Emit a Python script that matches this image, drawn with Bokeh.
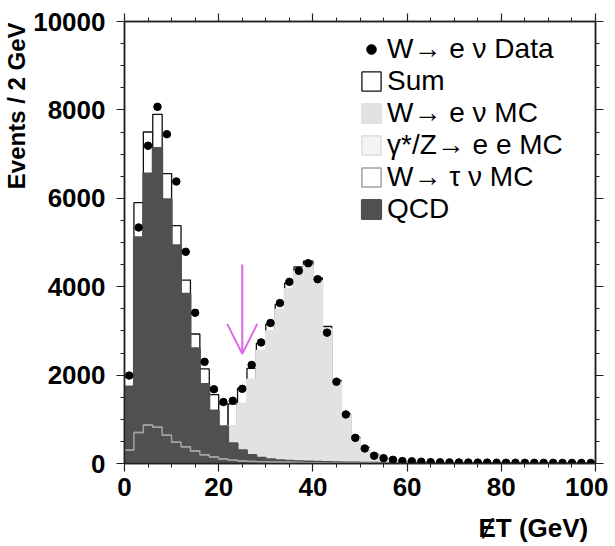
import numpy as np
from bokeh.plotting import figure
from bokeh.models import (Range1d, SingleIntervalTicker, LinearAxis, Arrow,
                          OpenHead, Legend, LegendItem, ColumnDataSource,
                          CustomJSTickFormatter)
from bokeh.embed import file_html
from bokeh.resources import INLINE

# ---------------- data (2 GeV bins, 0-100 GeV) ----------------
bin_edges = list(range(0, 101, 2))

data_counts = [1990, 5340, 7190, 8070, 7450, 6380, 4790, 3410, 2300, 1680,
               1390, 1420, 1690, 2230, 2740, 3180, 3630, 4110, 4360, 4530,
               4170, 2960, 1850, 1110, 580, 340, 175, 120, 84, 55,
               50, 40, 30, 28, 25, 24, 22, 20, 20, 18,
               18, 17, 16, 16, 15, 15, 14, 14, 13, 13]

sum_mc = [1960, 5900, 7500, 7900, 6560, 5380, 4150, 2930, 2140, 1560,
          1350, 1350, 1700, 2150, 2720, 3150, 3600, 4080, 4450, 4580,
          4200, 3100, 1880, 1120, 595, 370, 205, 110, 70, 45,
          35, 28, 22, 20, 18, 16, 15, 14, 13, 12,
          11, 10, 10, 9, 9, 8, 8, 7, 7, 7]

wenu_mc = [20, 40, 60, 80, 110, 150, 200, 270, 350, 460,
           600, 850, 1350, 1900, 2550, 3000, 3480, 3950, 4350, 4480,
           4130, 3050, 1840, 1095, 570, 345, 185, 95, 58, 35,
           26, 20, 15, 13, 11, 10, 9, 8, 7, 6,
           6, 5, 5, 4, 4, 4, 3, 3, 3, 3]

zee_mc = [10, 15, 20, 22, 25, 25, 25, 25, 25, 25,
          25, 25, 25, 25, 25, 25, 25, 25, 28, 30,
          32, 34, 35, 35, 32, 30, 25, 20, 18, 15,
          12, 10, 9, 8, 7, 6, 5, 5, 4, 4,
          3, 3, 3, 2, 2, 2, 2, 2, 1, 1]

wtaunu_mc = [300, 700, 870, 820, 640, 480, 380, 280, 200, 145,
             100, 75, 58, 47, 40, 34, 30, 26, 22, 19,
             16, 13, 10, 8, 6, 5, 4, 4, 3, 3,
             3, 2, 2, 2, 2, 2, 1, 1, 1, 1,
             1, 1, 1, 1, 1, 1, 1, 1, 1, 1]

qcd = [1740, 5120, 6560, 7140, 5980, 4940, 3840, 2610, 1800, 1200,
       840, 460, 300, 190, 130, 95, 75, 60, 50, 45,
       40, 35, 30, 25, 20, 18, 15, 12, 10, 8,
       7, 6, 6, 5, 5, 4, 4, 4, 3, 3,
       3, 3, 2, 2, 2, 2, 2, 1, 1, 1]

legend_labels = ["W\u2192 e \u03bd Data", "Sum", "W\u2192 e \u03bd MC",
                 "\u03b3*/Z\u2192 e e MC", "W\u2192 \u03c4 \u03bd MC", "QCD"]
x_title = "\u0246T (GeV)"
y_title = "Events / 2 GeV"

cut_value = 25          # GeV, marked by the arrow
arrow_top, arrow_tip = 4500, 2480

# ---------------- derived sources ----------------
left = bin_edges[:-1]
right = bin_edges[1:]
centers = [(a + b) / 2 for a, b in zip(left, right)]
src = ColumnDataSource(dict(left=left, right=right, centers=centers, data=data_counts,
                            sum=sum_mc, wenu=wenu_mc, qcd=qcd, zee=zee_mc, tau=wtaunu_mc,
                            zero=[0] * len(left)))
step_x = bin_edges
tau_step = wtaunu_mc + [wtaunu_mc[-1]]
zee_step = zee_mc + [zee_mc[-1]]

FONT = "Liberation Sans"
NBSP = "\u00a0"

p = figure(frame_width=471, frame_height=442, x_range=Range1d(0, 100), y_range=Range1d(0, 10000),
           output_backend="svg", toolbar_location=None,
           min_border_left=123, min_border_right=13, min_border_top=21, min_border_bottom=75)
p.grid.visible = False
p.outline_line_color = "#222222"
p.outline_line_width = 1.5

# ---------------- histograms ----------------
r_sum = p.quad(left="left", right="right", bottom="zero", top="sum", source=src,
               fill_color="white", line_color="#111111", line_width=1.3)
r_wenu = p.quad(left="left", right="right", bottom="zero", top="wenu", source=src,
                fill_color="#e2e2e2", line_color="#e2e2e2", line_width=2)
r_zee_leg = p.quad(left="left", right="right", bottom="zee", top="zee", source=src,
                   fill_color="#f4f4f4", line_color="#d8d8d8", line_width=1.2)
r_zee = p.step(x=step_x, y=zee_step, mode="after", line_color="#d4d4d4", line_width=1.2)
r_qcd = p.quad(left="left", right="right", bottom="zero", top="qcd", source=src,
               fill_color="#505050", line_color="#505050", line_width=2)
r_tau_leg = p.quad(left="left", right="right", bottom="tau", top="tau", source=src,
                   fill_color="white", line_color="#a4a4a4", line_width=1.5)
r_tau = p.step(x=step_x, y=tau_step, mode="after", line_color="#a4a4a4", line_width=1.5)
r_data = p.scatter(x="centers", y="data", source=src, size=7.5, marker="circle",
                   fill_color="black", line_color="black")

# ---------------- arrow ----------------
p.add_layout(Arrow(end=OpenHead(size=30, line_color="#e066e6", line_width=2),
                   x_start=cut_value, y_start=arrow_top, x_end=cut_value, y_end=arrow_tip,
                   line_color="#e066e6", line_width=2))

# ---------------- axes ----------------
def style_axis(ax, labels=True):
    ax.axis_line_color = "#222222"
    ax.axis_line_width = 1.5
    ax.major_tick_line_color = "#222222"
    ax.minor_tick_line_color = "#222222"
    ax.major_tick_line_width = 1.2
    ax.minor_tick_line_width = 1.0
    ax.major_tick_out = 8
    ax.major_tick_in = 0
    ax.minor_tick_out = 4
    ax.minor_tick_in = 0
    ax.major_label_text_font = FONT
    ax.major_label_text_font_style = "bold"
    ax.major_label_text_font_size = "26px"
    ax.major_label_text_color = "black"
    ax.axis_label_text_font = FONT
    ax.axis_label_text_font_style = "bold"
    ax.axis_label_text_font_size = "24px"
    ax.axis_label_text_color = "black"
    if not labels:
        ax.formatter = CustomJSTickFormatter(code="return ''")
        ax.major_label_standoff = 0

p.xaxis.ticker = SingleIntervalTicker(interval=20, num_minor_ticks=4)
p.yaxis.ticker = SingleIntervalTicker(interval=2000, num_minor_ticks=4)
style_axis(p.xaxis[0])
style_axis(p.yaxis[0])
p.yaxis.major_label_standoff = 11
p.xaxis.major_label_standoff = 6
# axis titles pushed to the right / top end of the axes (ROOT style)
p.xaxis.axis_label = NBSP * 48 + x_title
p.xaxis.axis_label_text_font_size = "26px"
p.yaxis.axis_label = NBSP * 41 + y_title
p.xaxis.axis_label_standoff = 14
p.yaxis.axis_label_standoff = 0

top_ax = LinearAxis(ticker=SingleIntervalTicker(interval=20, num_minor_ticks=4))
right_ax = LinearAxis(ticker=SingleIntervalTicker(interval=2000, num_minor_ticks=4))
style_axis(top_ax, labels=False)
style_axis(right_ax, labels=False)
p.add_layout(top_ax, "above")
p.add_layout(right_ax, "right")

# ---------------- legend ----------------
items = [LegendItem(label=legend_labels[0], renderers=[r_data]),
         LegendItem(label=legend_labels[1], renderers=[r_sum]),
         LegendItem(label=legend_labels[2], renderers=[r_wenu]),
         LegendItem(label=legend_labels[3], renderers=[r_zee_leg]),
         LegendItem(label=legend_labels[4], renderers=[r_tau_leg]),
         LegendItem(label=legend_labels[5], renderers=[r_qcd])]
legend = Legend(items=items, location=(235, 238), margin=0, padding=0, spacing=0,
                glyph_width=24, glyph_height=24, label_height=24, label_standoff=4,
                label_text_font=FONT, label_text_font_size="28px", label_text_color="black",
                border_line_color=None, background_fill_alpha=0)
p.add_layout(legend)

open("out.html", "w").write(file_html(p, INLINE))
